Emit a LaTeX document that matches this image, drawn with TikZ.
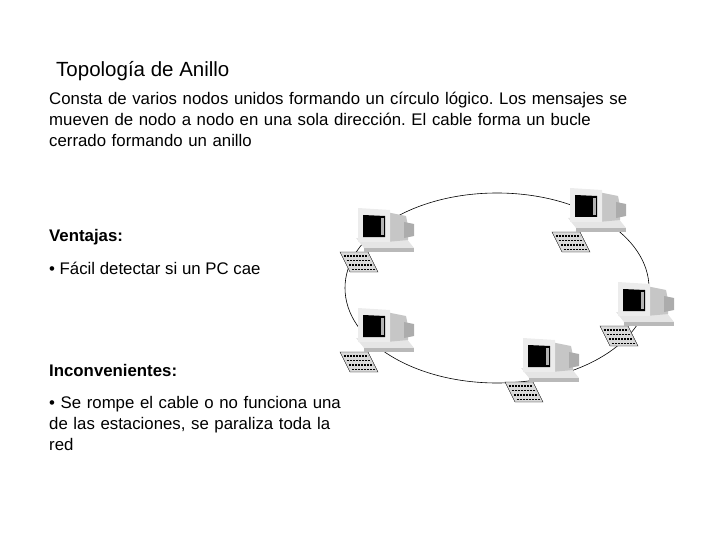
\documentclass[tikz,border=0pt]{standalone}
\usepackage{fontspec}
\setmainfont{Liberation Sans}
\begin{document}
\begin{tikzpicture}[x=1pt,y=-1pt,
  txt/.style={anchor=base west,inner sep=0pt,font=\fontsize{16.8}{21}\selectfont},
  pc/.pic={
    % keyboard
    \fill[gray!30,draw=black,line width=0.4pt] (-40,20)--(-12,20)--(-2,40)--(-30,40)--cycle;
    \foreach \i in {0,1,2,3}{\draw[black,line width=1.2pt,dash pattern=on 2pt off 1pt] (-36+2.5*\i,24+4.5*\i)--(-12+2.5*\i,24+4.5*\i);}
    % base
    \fill[gray!20] (-24,6)--(26,6)--(34,16)--(-16,16)--cycle;
    \fill[gray!55] (-16,16)--(34,16)--(34,20)--(-16,20)--cycle;
    % monitor back
    \fill[gray!45] (6,-20)--(26,-16)--(28,-6)--(28,8)--(6,10)--cycle;
    \fill[gray!65] (24,-10)--(34,-8)--(34,4)--(24,6)--cycle;
    % monitor front
    \fill[gray!15] (-22,-24)--(10,-22)--(10,10)--(-22,10)--cycle;
    \fill[black] (-17,-17)--(5,-16)--(5,5)--(-17,5)--cycle;
    \fill[gray!60] (1,-14)--(4,-14)--(4,3)--(1,3)--cycle;
  }]
\useasboundingbox (0,0) rectangle (720,540);
\frenchspacing
\node[txt,font=\fontsize{20.5}{24}\selectfont] (title) at (56,77) {Topología de Anillo};
\node[txt,align=left,text width=620pt] (desc) at (49,105) {\frenchspacing Consta de varios nodos unidos formando un círculo lógico. Los mensajes se\\ mueven de nodo a nodo en una sola dirección. El cable forma un bucle\\ cerrado formando un anillo};
\node[txt,font=\bfseries\fontsize{16.8}{21}\selectfont] (v) at (49,241) {Ventajas:};
\node[txt] (v1) at (49,274) {• Fácil detectar si un PC cae};
\node[txt,font=\bfseries\fontsize{16.8}{21}\selectfont] (i) at (49,376) {Inconvenientes:};
\node[txt,align=left,text width=340pt] (i1) at (49,408) {• Se rompe el cable o no funciona una\\ de las estaciones, se paraliza toda la\\ red};
\draw[line width=0.6pt] (497,288) ellipse [x radius=152, y radius=95];
\coordinate (pc1) at (380,232);
\coordinate (pc2) at (592,212);
\coordinate (pc3) at (640,306);
\coordinate (pc4) at (380,332);
\coordinate (pc5) at (545,362);
\foreach \p in {pc1,pc2,pc3,pc4,pc5}{\pic at (\p) {pc};}
\end{tikzpicture}
\end{document}
